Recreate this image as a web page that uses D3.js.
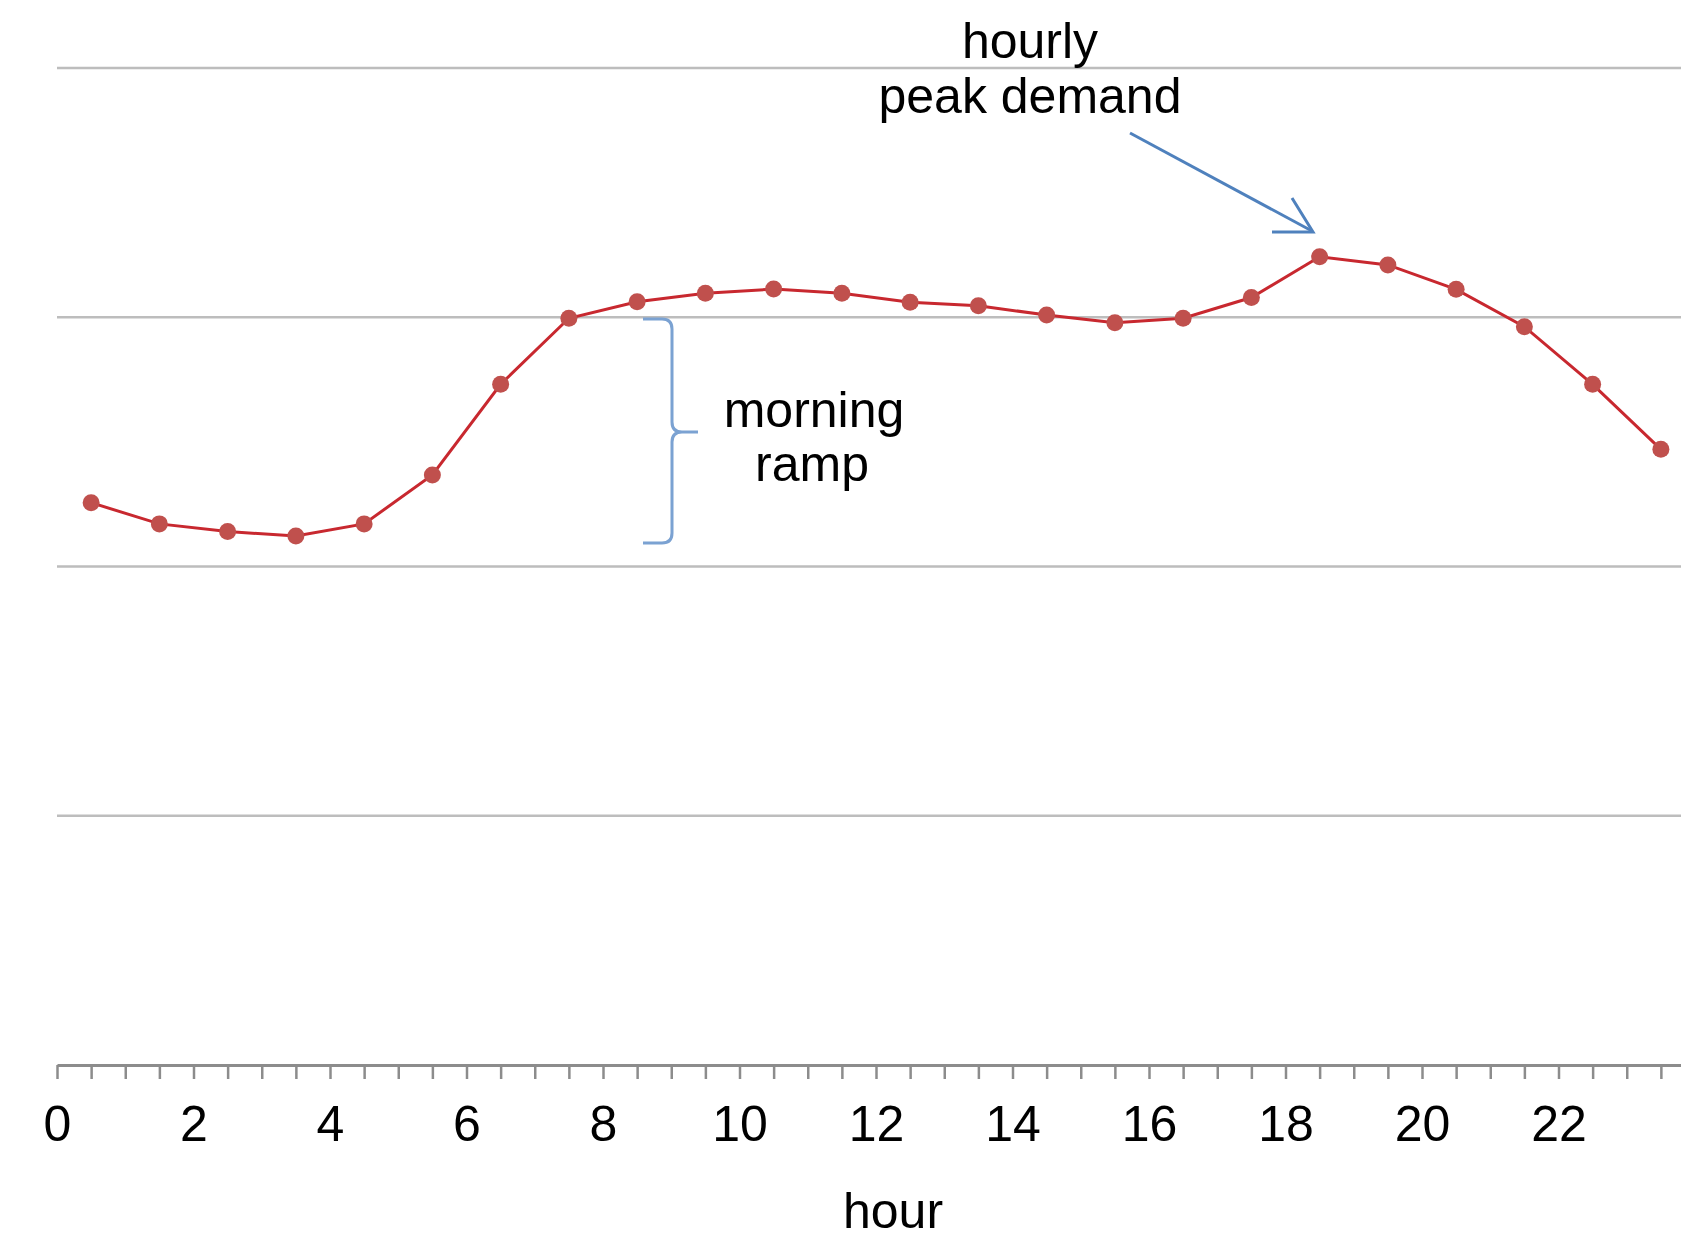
<!DOCTYPE html>
<html>
<head>
<meta charset="utf-8">
<script src="https://cdn.jsdelivr.net/npm/d3@7"></script>
<style>
  body { margin: 0; background: #fff; }
  svg { display: block; font-family: "Liberation Sans", Arial, sans-serif; }
</style>
</head>
<body>
<svg id="chart" width="1681" height="1240"></svg>
<script>
// ---- data ----
const hours = [0.5, 1.5, 2.5, 3.5, 4.5, 5.5, 6.5, 7.5, 8.5, 9.5, 10.5, 11.5,
               12.5, 13.5, 14.5, 15.5, 16.5, 17.5, 18.5, 19.5, 20.5, 21.5, 22.5, 23.5];
const demand = [2.256, 2.171, 2.140, 2.122, 2.171, 2.367, 2.731, 2.996, 3.062, 3.096, 3.113, 3.096,
                3.060, 3.046, 3.009, 2.978, 2.996, 3.079, 3.243, 3.210, 3.112, 2.962, 2.731, 2.470];
const xTickLabels = [0, 2, 4, 6, 8, 10, 12, 14, 16, 18, 20, 22];
const xMinorTicks = [0, 0.5, 1, 1.5, 2, 2.5, 3, 3.5, 4, 4.5, 5, 5.5, 6, 6.5, 7, 7.5, 8, 8.5, 9, 9.5,
                     10, 10.5, 11, 11.5, 12, 12.5, 13, 13.5, 14, 14.5, 15, 15.5, 16, 16.5, 17, 17.5,
                     18, 18.5, 19, 19.5, 20, 20.5, 21, 21.5, 22, 22.5, 23, 23.5];
const gridValues = [1, 2, 3, 4];
const xTitle = "hour";
const peakLabel = ["hourly", "peak demand"];
const rampLabel = ["morning", "ramp"];

// ---- layout ----
const W = 1681, H = 1240;
const svg = d3.select("#chart");
svg.append("rect").attr("width", W).attr("height", H).attr("fill", "#fff");

const x = d3.scaleLinear().domain([0, 24]).range([57, 57 + 68.25 * 24]);
const y = d3.scaleLinear().domain([0, 4]).range([1065, 68]);

// gridlines
svg.append("g")
  .selectAll("line")
  .data(gridValues)
  .join("line")
  .attr("x1", x(0)).attr("x2", W)
  .attr("y1", d => y(d)).attr("y2", d => y(d))
  .attr("stroke", "#bdbdbd").attr("stroke-width", 2.5);

// x axis: minor ticks
const axisG = svg.append("g").attr("transform", `translate(0,${y(0)})`)
  .call(d3.axisBottom(x).tickValues(xMinorTicks).tickSize(14).tickSizeOuter(0).tickFormat(""));
axisG.select(".domain").attr("stroke", "#8c8c8c").attr("stroke-width", 3);
axisG.selectAll(".tick line").attr("stroke", "#8c8c8c").attr("stroke-width", 2.5);

// x axis labels
const labG = svg.append("g").attr("transform", `translate(0,${y(0)})`)
  .call(d3.axisBottom(x).tickValues(xTickLabels).tickSize(0).tickFormat(d3.format("d")));
labG.select(".domain").remove();
labG.selectAll(".tick text")
  .attr("y", 76).attr("dy", 0)
  .attr("font-size", 50).attr("fill", "#000")
  .attr("font-family", "'Liberation Sans', Arial, sans-serif");

// x title
svg.append("text")
  .attr("x", 893).attr("y", 1228)
  .attr("text-anchor", "middle")
  .attr("font-size", 50).attr("fill", "#000")
  .text(xTitle);

// line
const pts = hours.map((h, i) => [h, demand[i]]);
svg.append("path")
  .datum(pts)
  .attr("fill", "none")
  .attr("stroke", "#c8282f")
  .attr("stroke-width", 3)
  .attr("d", d3.line().x(d => x(d[0])).y(d => y(d[1])));

svg.append("g")
  .selectAll("circle")
  .data(pts)
  .join("circle")
  .attr("cx", d => x(d[0])).attr("cy", d => y(d[1]))
  .attr("r", 8.5)
  .attr("fill", "#c0504d");

// peak annotation
svg.append("text").attr("x", 1030).attr("y", 58).attr("text-anchor", "middle")
  .attr("font-size", 50).attr("fill", "#000").text(peakLabel[0]);
svg.append("text").attr("x", 1030).attr("y", 113).attr("text-anchor", "middle")
  .attr("font-size", 50).attr("fill", "#000").text(peakLabel[1]);

const arrowColor = "#4f81bd";
svg.append("line").attr("x1", 1130).attr("y1", 133).attr("x2", 1312).attr("y2", 231)
  .attr("stroke", arrowColor).attr("stroke-width", 3);
svg.append("path")
  .attr("d", "M1272,232 L1313,232 L1292,198")
  .attr("fill", "none").attr("stroke", arrowColor).attr("stroke-width", 3)
  .attr("stroke-linejoin", "miter");

// morning ramp brace
const braceColor = "#7ba2d2";
svg.append("path")
  .attr("d", "M643,319 L662,319 Q672,319 672,329 L672,422 Q672,432 682,432 L698,432 M682,432 Q672,432 672,442 L672,533 Q672,543 662,543 L643,543")
  .attr("fill", "none").attr("stroke", braceColor).attr("stroke-width", 3);

svg.append("text").attr("x", 814).attr("y", 427).attr("text-anchor", "middle")
  .attr("font-size", 50).attr("fill", "#000").text(rampLabel[0]);
svg.append("text").attr("x", 812).attr("y", 481).attr("text-anchor", "middle")
  .attr("font-size", 50).attr("fill", "#000").text(rampLabel[1]);
</script>
</body>
</html>
